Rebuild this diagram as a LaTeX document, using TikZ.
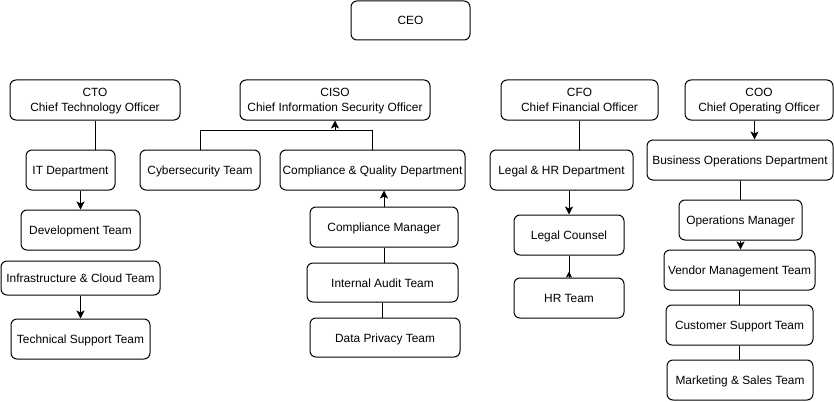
\documentclass[tikz,border=0pt]{standalone}
\usepackage{fontspec}
\setmainfont{Liberation Sans}
\usetikzlibrary{arrows.meta,calc}
\tikzset{
  box/.style={draw=black,line width=1pt,rounded corners=6pt,inner sep=0pt,align=center,font=\fontsize{11.9}{15}\selectfont},
  link/.style={draw=black,line width=1pt},
  arr/.style={link,-{Stealth[length=8pt,width=8pt,inset=2pt]}}
}
\newcommand{\bx}[6]{\node[box,minimum width=#4pt-#2pt,minimum height=#5pt-#3pt] (#1) at ({(#2+#4)/2},{(#3+#5)/2}) {\raisebox{-1.5pt}[\height][\depth]{\begin{tabular}{@{}c@{}}#6\end{tabular}}};}
\begin{document}
\begin{tikzpicture}[x=1pt,y=-1pt]
\useasboundingbox (0,0) rectangle (834,401);
\bx{ceo}{351}{1}{470}{40}{CEO}
\bx{cto}{10}{80}{180}{120}{CTO\\Chief Technology Officer}
\bx{ciso}{240}{80}{430}{120}{CISO\\Chief Information Security Officer}
\bx{cfo}{501}{80}{658}{120}{CFO\\Chief Financial Officer}
\bx{coo}{685}{80}{833}{120}{COO\\Chief Operating Officer}
\bx{it}{26}{150}{115}{190}{IT Department}
\bx{dev}{21}{210}{140}{250}{Development Team}
\bx{infra}{1}{261}{160}{295}{Infrastructure \& Cloud Team}
\bx{tech}{11}{319}{150}{359}{Technical Support Team}
\bx{cyber}{140}{150}{260}{190}{Cybersecurity Team}
\bx{cq}{280}{150}{465}{190}{Compliance \& Quality Department}
\bx{cm}{310}{207}{458}{247}{Compliance Manager}
\bx{iat}{307}{263}{458}{302}{Internal Audit Team}
\bx{dpt}{310}{318}{460}{357}{Data Privacy Team}
\bx{lhr}{490}{150}{633}{190}{Legal \& HR Department}
\bx{lc}{514}{215}{624}{255}{Legal Counsel}
\bx{hr}{514}{278}{624}{318}{HR Team}
\bx{bod}{647}{140}{833}{180}{Business Operations Department}
\bx{om}{679}{200}{802}{240}{Operations Manager}
\bx{vmt}{664}{250}{815}{290}{Vendor Management Team}
\bx{cst}{666}{305}{813}{345}{Customer Support Team}
\bx{mst}{667}{360}{813}{400}{Marketing \& Sales Team}
% CTO branch
\draw[link] (cto.south) -- (cto.south |- it.north);
\draw[arr] (dev.north |- it.south) -- (dev.north);
\draw[arr] (infra.south) -- (tech.north);
% CISO branch
\coordinate (jn) at ($(ciso.south)+(0,10)$);
\draw[link] (cyber.north) |- (jn) -| (cq.north);
\draw[arr] (jn) -- (ciso.south);
\draw[arr] (cm.north) -- (cm.north |- cq.south);
\draw[link] (cm.south) -- (cm.south |- iat.north);
\draw[link] (iat.south) -- (iat.south |- dpt.north);
% CFO branch
\draw[link] (cfo.south) -- (cfo.south |- lhr.north);
\draw[arr] (lc.north |- lhr.south) -- (lc.north);
\draw[link] (lc.south) -- (hr.north);
\draw[link,-{Stealth[length=6pt,width=6pt,inset=1.5pt]}] (hr.north) -- ($(hr.north)+(0,-6)$);
% COO branch
\coordinate (coos) at ($(coo.south)+(-4.5,0)$);
\draw[arr] (coos) -- (coos |- bod.north);
\draw[link] (bod.south) -- (bod.south |- om.north);
\draw[arr] (om.south) -- (om.south |- vmt.north);
\draw[link] (vmt.south) -- (vmt.south |- cst.north);
\draw[link] (cst.south) -- (cst.south |- mst.north);
\end{tikzpicture}
\end{document}
